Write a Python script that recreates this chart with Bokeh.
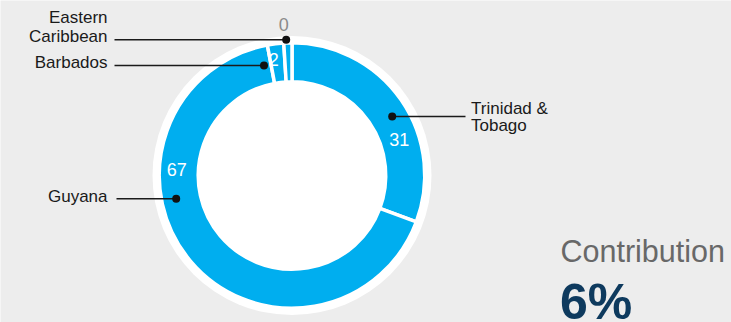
import math
from bokeh.plotting import figure
from bokeh.models import Range1d, ColumnDataSource
from bokeh.core.properties import value
from bokeh.embed import file_html
from bokeh.resources import INLINE

# ---- data ----
countries = ["Trinidad & Tobago", "Guyana", "Barbados", "Eastern Caribbean"]
shares = [31, 67, 2, 0]
label_lines = [["Trinidad &", "Tobago"], ["Guyana"], ["Barbados"], ["Eastern", "Caribbean"]]
kpi_title = "Contribution"
kpi_value = "6%"

# ---- layout (screen pixels, y downward) ----
W, H = 731, 322
BG = "#EDEDED"
BLUE = "#00AEEF"
CX, CY = 291.5, 175.0
R_HALO, R_OUT, R_IN = 139.5, 131.0, 95.5
GAP = 3.5
MIN_SHARE = 1.0  # so a zero share still shows a sliver
SHIFT = 0.42     # baseline correction, in em

def Y(v):
    return H - v

def YT(v, size):
    # text baseline at screen y v, corrected for the renderer's baseline offset
    return H - (v - SHIFT * size)

p = figure(width=W, height=H, output_backend="svg", toolbar_location=None,
           x_range=Range1d(0, W), y_range=Range1d(0, H),
           x_axis_type=None, y_axis_type=None, min_border=0)
p.background_fill_color = BG
p.border_fill_color = BG
p.outline_line_color = None
p.grid.visible = False

# white halo disc
p.circle(x=[CX], y=[Y(CY)], radius=R_HALO, fill_color="white", line_color=None)

# ring segments, clockwise from 12 o'clock
disp = [max(s, MIN_SHARE) for s in shares]
tot = sum(disp)
starts, ends = [], []
acc = 0.0
for d in disp:
    a0 = acc / tot * 2 * math.pi
    acc += d
    a1 = acc / tot * 2 * math.pi
    starts.append(math.pi / 2 - a0)
    ends.append(math.pi / 2 - a1)
src = ColumnDataSource(dict(start=starts, end=ends, name=countries, share=shares))
p.annular_wedge(x=CX, y=Y(CY), inner_radius=R_IN - GAP / 2, outer_radius=R_OUT + GAP / 2,
                start_angle="start", end_angle="end", direction="clock", source=src,
                fill_color=BLUE, line_color="white", line_width=GAP)

# annotation anchors (screen px): dots, leader line end, label anchor
dots = [(391.7, 116.0), (175.7, 198.3), (263.5, 65.0), (285.7, 39.3)]
leader_end_x = [465.0, 116.0, 114.0, 114.0]
label_x = [470.5, 107.0, 107.0, 107.0]
label_align = ["left", "right", "right", "right"]
label_baselines = [[115.5, 132.5], [203.0], [69.5], [24.0, 43.5]]
value_pos = [(398.8, 146.8), (176.3, 176.8), (273.3, 66.8), (283.3, 31.8)]
value_color = ["white", "white", "white", "#8A8A8A"]

p.segment(x0=[d[0] for d in dots], y0=[Y(d[1]) for d in dots],
          x1=leader_end_x, y1=[Y(d[1]) for d in dots],
          line_color="#1A1A1A", line_width=1.4)
p.scatter(x=[d[0] for d in dots], y=[Y(d[1]) for d in dots], size=8,
          fill_color="#111111", line_color=None)

LBL = 17
for lines, lx, al, bls in zip(label_lines, label_x, label_align, label_baselines):
    p.text(x=[lx] * len(lines), y=[YT(b, LBL) for b in bls], text=lines,
           text_font=value("Liberation Sans"), text_font_size=f"{LBL}px",
           text_color="#1A1A1A", text_align=al, text_baseline="alphabetic")

VAL = 18
p.text(x=[v[0] for v in value_pos], y=[YT(v[1], VAL) for v in value_pos],
       text=[str(s) for s in shares], text_color=value_color,
       text_font=value("Liberation Sans"), text_font_size=f"{VAL}px",
       text_align="center", text_baseline="alphabetic")

KT = 30.5
p.text(x=[560.0], y=[YT(263.3, KT)], text=[kpi_title], text_font=value("Liberation Sans"),
       text_font_size=f"{KT}px", text_color="#686868", text_align="left",
       text_baseline="alphabetic")
KV = 50
p.text(x=[559.5], y=[YT(322.5, KV)], text=[kpi_value], text_font=value("Liberation Sans"),
       text_font_size=f"{KV}px", text_font_style="bold", text_color="#0E3A5E",
       text_align="left", text_baseline="alphabetic")

open("out.html", "w").write(file_html(p, INLINE))
